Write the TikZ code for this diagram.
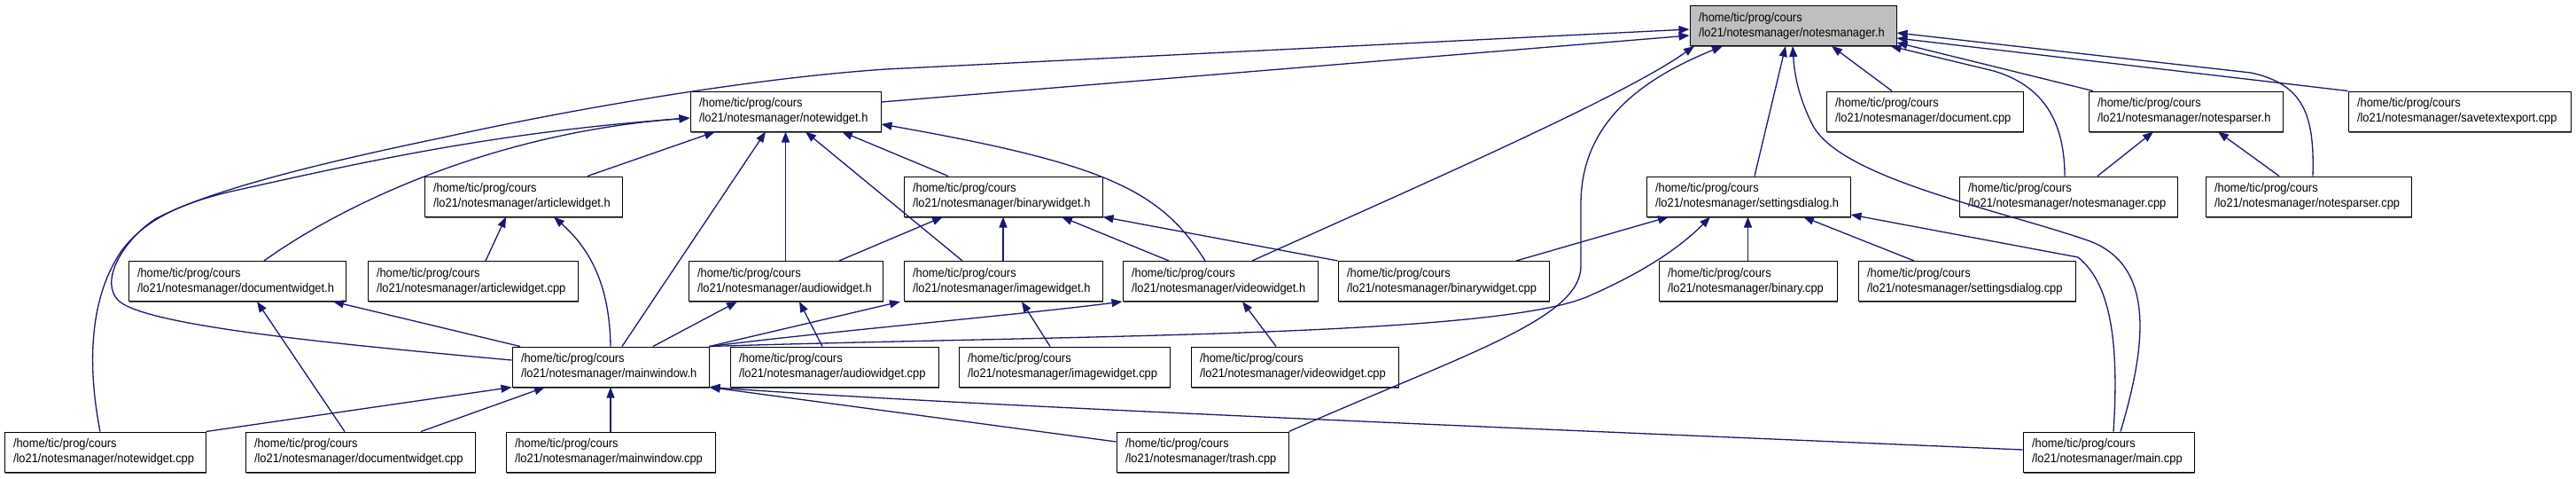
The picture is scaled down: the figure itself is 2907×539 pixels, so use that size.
\documentclass[tikz,border=0pt]{standalone}
\usepackage{fontspec}
\setmainfont{Liberation Sans}[FakeStretch=0.92]
\usetikzlibrary{arrows.meta,shadows}
\definecolor{edgecol}{HTML}{191970}
\definecolor{nodegray}{HTML}{BFBFBF}
\begin{document}
\begin{tikzpicture}[x=1pt,y=-1pt,
  box/.style={draw=black, line width=1pt, fill=white, inner xsep=10pt, inner ysep=0pt,
    minimum height=45pt, align=left, font=\fontsize{14}{17}\selectfont,
    drop shadow={shadow xshift=1pt, shadow yshift=-1.5pt, fill=black!60, opacity=1}},
  edge/.style={draw=edgecol, line width=1.3pt, -{Triangle[length=12pt,width=9pt]}}]
\useasboundingbox[fill=white] (0,0) rectangle (2907,539);

% row 1
\node[box, fill=nodegray, text width=213pt] (nm) at (2023.5,29) {/home/tic/prog/cours\\/lo21/notesmanager/notesmanager.h};
% row 2
\node[box, text width=195pt] (nw) at (886.5,125.5) {/home/tic/prog/cours\\/lo21/notesmanager/notewidget.h};
\node[box, text width=202pt] (doc) at (2172,125.5) {/home/tic/prog/cours\\/lo21/notesmanager/document.cpp};
\node[box, text width=199pt] (nph) at (2466.5,125.5) {/home/tic/prog/cours\\/lo21/notesmanager/notesparser.h};
\node[box, text width=231pt] (ste) at (2775.5,125.5) {/home/tic/prog/cours\\/lo21/notesmanager/savetextexport.cpp};
% row 3
\node[box, text width=203pt] (awh) at (590.5,221.5) {/home/tic/prog/cours\\/lo21/notesmanager/articlewidget.h};
\node[box, text width=204pt] (bwh) at (1132,221.5) {/home/tic/prog/cours\\/lo21/notesmanager/binarywidget.h};
\node[box, text width=210pt] (sdh) at (1973,221.5) {/home/tic/prog/cours\\/lo21/notesmanager/settingsdialog.h};
\node[box, text width=226pt] (nmc) at (2334,221.5) {/home/tic/prog/cours\\/lo21/notesmanager/notesmanager.cpp};
\node[box, text width=212pt] (npc) at (2605,221.5) {/home/tic/prog/cours\\/lo21/notesmanager/notesparser.cpp};
% row 4
\node[box, text width=225pt] (dwh) at (267.5,317) {/home/tic/prog/cours\\/lo21/notesmanager/documentwidget.h};
\node[box, text width=217pt] (awc) at (533.5,317) {/home/tic/prog/cours\\/lo21/notesmanager/articlewidget.cpp};
\node[box, text width=199pt] (auh) at (886.5,317) {/home/tic/prog/cours\\/lo21/notesmanager/audiowidget.h};
\node[box, text width=204pt] (iwh) at (1132,317) {/home/tic/prog/cours\\/lo21/notesmanager/imagewidget.h};
\node[box, text width=200pt] (vwh) at (1377,317) {/home/tic/prog/cours\\/lo21/notesmanager/videowidget.h};
\node[box, text width=218pt] (bwc) at (1629,317) {/home/tic/prog/cours\\/lo21/notesmanager/binarywidget.cpp};
\node[box, text width=181pt] (bin) at (1972.5,317) {/home/tic/prog/cours\\/lo21/notesmanager/binary.cpp};
\node[box, text width=225pt] (sdc) at (2219.5,317) {/home/tic/prog/cours\\/lo21/notesmanager/settingsdialog.cpp};
% row 5
\node[box, text width=202pt] (mwh) at (689,413.5) {/home/tic/prog/cours\\/lo21/notesmanager/mainwindow.h};
\node[box, text width=215pt] (auc) at (941.5,413.5) {/home/tic/prog/cours\\/lo21/notesmanager/audiowidget.cpp};
\node[box, text width=218pt] (iwc) at (1201,413.5) {/home/tic/prog/cours\\/lo21/notesmanager/imagewidget.cpp};
\node[box, text width=214pt] (vwc) at (1461,413.5) {/home/tic/prog/cours\\/lo21/notesmanager/videowidget.cpp};
% row 6
\node[box, text width=207pt] (nwc) at (118.5,509.5) {/home/tic/prog/cours\\/lo21/notesmanager/notewidget.cpp};
\node[box, text width=239pt] (dwc) at (406.5,509.5) {/home/tic/prog/cours\\/lo21/notesmanager/documentwidget.cpp};
\node[box, text width=216pt] (mwc) at (689,509.5) {/home/tic/prog/cours\\/lo21/notesmanager/mainwindow.cpp};
\node[box, text width=174pt] (tr) at (1357,509.5) {/home/tic/prog/cours\\/lo21/notesmanager/trash.cpp};
\node[box, text width=173pt] (mc) at (2379.5,509.5) {/home/tic/prog/cours\\/lo21/notesmanager/main.cpp};

% edges into notesmanager.h
\draw[edge] ([yshift=7.5pt]mwh.west) .. controls (380,388) and (170,368) .. (135,340)
  .. controls (110,318) and (140,270) .. (175,247) .. controls (240,212) and (380,180) .. (500,155)
  .. controls (650,122) and (850,88) .. (1000,78) -- ([yshift=-4pt]nm.west);
\draw[edge] ([yshift=10.5pt]nw.east) -- ([yshift=-11pt]nm.west);
\draw[edge] ([xshift=36pt]vwh.north) .. controls (1600,210) and (1830,110) .. ([xshift=-111.5pt]nm.south);
\draw[edge] (tr.north east) .. controls (1650,400) and (1784,360) .. (1784,300) -- (1784,230)
  .. controls (1784,140) and (1850,90) .. ([xshift=-79.5pt]nm.south);
\draw[edge] ([xshift=7pt]sdh.north) -- ([xshift=-8.5pt]nm.south);
\draw[edge] ([xshift=13.5pt]mc.north) .. controls (2425,380) and (2430,295) .. (2353,270)
  .. controls (2250,235) and (2075,200) .. (2045,140) .. controls (2030,110) and (2025,85) .. ([xshift=-0.5pt]nm.south);
\draw[edge] ([xshift=-37pt]doc.north) -- ([xshift=43.5pt]nm.south);
\draw[edge] ([xshift=-4pt]nmc.north) .. controls (2330,130) and (2300,95) .. (2250,80) -- ([xshift=110pt]nm.south);
\draw[edge] ([xshift=-104.5pt]nph.north) -- ([yshift=-19pt]nm.east);
\draw[edge] (ste.north west) -- ([yshift=-14pt]nm.east);
\draw[edge] ([xshift=5pt]npc.north) .. controls (2612,130) and (2600,95) .. (2540,82) -- ([yshift=-8pt]nm.east);

% edges into notewidget.h
\draw[edge] ([xshift=-5.5pt]nwc.north) .. controls (100,420) and (98,340) .. (137,283)
  .. controls (165,245) and (210,228) .. (260,216) .. controls (400,185) and (550,150) .. ([yshift=-7.5pt]nw.west);
\draw[edge] ([xshift=30.5pt]dwh.north) .. controls (380,235) and (550,150) .. ([yshift=-7.5pt]nw.west);
\draw[edge] ([xshift=72.5pt]awh.north) -- ([xshift=-79.5pt]nw.south);
\draw[edge] ([xshift=13pt]mwh.north) -- ([xshift=-22.5pt]nw.south);
\draw[edge] (auh.north) -- (nw.south);
\draw[edge] ([xshift=-46pt]iwh.north) -- ([xshift=22.5pt]nw.south);
\draw[edge] ([xshift=-62pt]bwh.north) -- ([xshift=63.5pt]nw.south);
\draw[edge] ([xshift=-17pt]vwh.north) .. controls (1310,215) and (1250,185) .. ([yshift=-14.5pt]nw.east);

% articlewidget.h, documentwidget.h, audiowidget.h
\draw[edge] (mwh.north) .. controls (688,320) and (665,280) .. ([xshift=34.5pt]awh.south);
\draw[edge] ([xshift=14.5pt]awc.north) -- ([xshift=-19.5pt]awh.south);
\draw[edge] ([xshift=-102pt]mwh.north) -- ([xshift=108.5pt]dwh.south);
\draw[edge] ([xshift=-17.5pt]dwc.north) -- ([xshift=22.5pt]dwh.south);
\draw[edge] ([xshift=48pt]mwh.north) -- ([xshift=-54.5pt]auh.south);
\draw[edge] ([xshift=-13.5pt]auc.north) -- ([xshift=15.5pt]auh.south);

% imagewidget.h, videowidget.h, settingsdialog.h from mainwindow.h
\draw[edge] (mwh.north east) -- ([xshift=-116pt]iwh.south);
\draw[edge] (mwh.north east) .. controls (950,372) and (1150,355) .. (vwh.south west);
\draw[edge] (mwh.north east) .. controls (1200,378) and (1680,380) .. (1790,335)
  .. controls (1860,305) and (1900,275) .. ([xshift=-43pt]sdh.south);

% into mainwindow.h
\draw[edge] ([yshift=2.5pt]mc.west) .. controls (1700,482) and (1100,458) .. (mwh.south east);
\draw[edge] ([yshift=11.5pt]tr.west) -- (mwh.south east);
\draw[edge] (nwc.north east) -- (mwh.south west);
\draw[edge] ([xshift=68.5pt]dwc.north) -- ([xshift=-74pt]mwh.south);
\draw[edge] (mwc.north) -- (mwh.south);

% .cpp to .h
\draw[edge] ([xshift=-16pt]iwc.north) -- ([xshift=21pt]iwh.south);
\draw[edge] ([xshift=-21pt]vwc.north) -- ([xshift=25pt]vwh.south);

% into binarywidget.h
\draw[edge] ([xshift=60.5pt]auh.north) -- ([xshift=-68pt]bwh.south);
\draw[edge] (iwh.north) -- (bwh.south);
\draw[edge] ([xshift=-58pt]vwh.north) -- ([xshift=66pt]bwh.south);
\draw[edge] (bwc.north west) -- (bwh.south east);

% into settingsdialog.h
\draw[edge] ([xshift=82pt]bwc.north) -- ([xshift=-90pt]sdh.south);
\draw[edge] (bin.north) -- (bin.north |- sdh.south);
\draw[edge] ([xshift=-59.5pt]sdc.north) -- ([xshift=62pt]sdh.south);
\draw[edge] ([xshift=5.5pt]mc.north) .. controls (2392,380) and (2380,318) .. (2345,290) -- ([yshift=-20.5pt]sdh.east);

% into notesparser.h
\draw[edge] ([xshift=33pt]nmc.north) -- ([xshift=-36.5pt]nph.south);
\draw[edge] ([xshift=-33pt]npc.north) -- ([xshift=36.5pt]nph.south);
\end{tikzpicture}
\end{document}
